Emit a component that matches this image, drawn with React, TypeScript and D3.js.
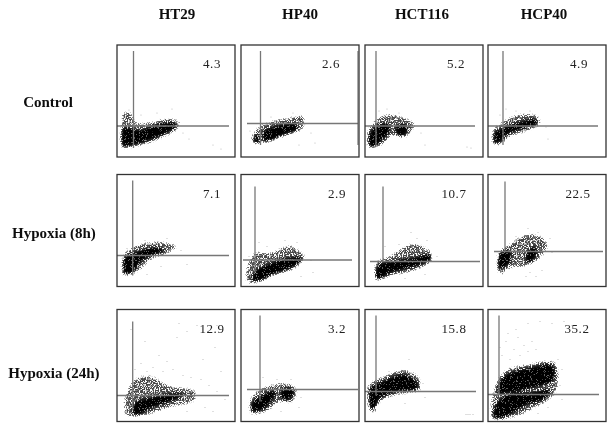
import React from "react";
import * as d3 from "d3";

type Pt = [number, number];

const cellLines = ["HT29", "HP40", "HCT116", "HCP40"];
const conditions = ["Control", "Hypoxia (8h)", "Hypoxia (24h)"];

// % in the upper right gate, row by row
const gatePercent = ["4.3", "2.6", "5.2", "4.9", "7.1", "2.9", "10.7", "22.5", "12.9", "3.2", "15.8", "35.2"];

// gate positions in channels (x 0-118, y 0-112)
const gateX = [16.5, 19.5, 11, 15, 15.7, 14, 18, 17, 15.7, 19, 11, 11];
const gateY = [31, 33.5, 31, 31, 31, 26.5, 25, 35, 26, 32, 30, 27];
const gateXTop = [106, 106, 106, 106, 106, 100, 100, 105, 100, 106, 106, 106];
const gateXBottom = [9, 12, 10, 12, 11, 14, 25, 35, 11, 20, 26, 27];
const gateYFrom = [0, 6, 0, 0, 0, 2, 5, 6, 0, 6, 0, 0];
const gateYTo = [112, 117, 110, 110, 112, 111, 115, 115, 112, 117, 111, 111];
const percentChannel = [95, 90, 91, 91, 95, 96, 89, 90, 95, 96, 89, 89];

// cloud outlines
const ht29ControlHalo: Pt[] = [[5, 9], [4, 32], [6, 44], [13, 45], [19, 35], [33, 35], [51, 39], [63, 35], [61, 28], [48, 20], [33, 14], [18, 10]];
const ht29ControlCore: Pt[] = [[6, 11], [6, 29], [23, 27], [38, 32], [58, 34], [59, 30], [43, 21], [28, 15], [11, 11]];
const hp40ControlHalo: Pt[] = [[11, 14], [11, 22], [17, 30], [27, 35], [44, 39], [62, 41], [63, 29], [49, 22], [29, 16], [17, 13]];
const hp40ControlCore: Pt[] = [[24, 15], [22, 25], [31, 30], [55, 33], [56, 27], [42, 22], [31, 16]];
const hp40ControlCore2: Pt[] = [[13, 15], [14, 21], [17, 23], [18, 14]];
const hct116ControlHalo: Pt[] = [[3, 10], [3, 27], [13, 39], [25, 43], [45, 37], [50, 32], [40, 19], [27, 21], [20, 14], [10, 9]];
const hct116ControlCore: Pt[] = [[5, 11], [4, 22], [13, 32], [24, 33], [24, 24], [17, 17], [11, 11]];
const hct116ControlCore2: Pt[] = [[30, 29], [39, 33], [43, 30], [40, 22], [33, 22]];
const hcp40ControlHalo: Pt[] = [[5, 12], [5, 27], [17, 37], [32, 43], [50, 41], [52, 33], [37, 25], [22, 20], [12, 12]];
const hcp40ControlCore: Pt[] = [[7, 14], [6, 24], [17, 30], [32, 35], [47, 38], [49, 33], [34, 28], [20, 23], [12, 15]];

const ht29EarlyHalo: Pt[] = [[6, 11], [6, 31], [18, 41], [43, 45], [60, 40], [53, 34], [33, 26], [23, 16], [11, 11]];
const ht29EarlyCore: Pt[] = [[7, 13], [7, 28], [20, 35], [38, 39], [48, 36], [33, 30], [23, 24], [18, 16], [11, 12]];
const hp40EarlyHalo: Pt[] = [[6, 4], [6, 21], [14, 34], [29, 34], [49, 41], [64, 30], [54, 18], [34, 11], [19, 4]];
const hp40EarlyCore: Pt[] = [[11, 6], [15, 16], [29, 23], [44, 28], [59, 29], [61, 26], [49, 18], [31, 12], [19, 6]];
const hct116EarlyHalo: Pt[] = [[10, 7], [11, 24], [25, 31], [47, 43], [65, 36], [67, 26], [50, 16], [25, 10], [15, 6]];
const hct116EarlyCore: Pt[] = [[11, 8], [13, 21], [30, 26], [50, 29], [66, 32], [66, 27], [50, 20], [27, 14], [15, 8]];
const hcp40EarlyHalo: Pt[] = [[10, 14], [10, 34], [22, 43], [37, 52], [52, 51], [60, 41], [52, 28], [37, 20], [22, 18], [14, 12]];
const hcp40EarlyCore: Pt[] = [[39, 24], [38, 33], [47, 40], [49, 34], [45, 26]];
const hcp40EarlyCore2: Pt[] = [[11, 18], [12, 34], [22, 36], [22, 24]];

const ht29LateHalo: Pt[] = [[9, 6], [8, 26], [18, 43], [33, 46], [53, 36], [78, 31], [78, 21], [53, 14], [28, 6]];
const ht29LateCore: Pt[] = [[16, 8], [18, 19], [33, 24], [55, 28], [68, 27], [53, 20], [33, 13], [23, 7]];
const hp40LateHalo: Pt[] = [[9, 8], [10, 24], [24, 35], [49, 38], [56, 31], [51, 19], [39, 19], [24, 9]];
const hp40LateCore: Pt[] = [[11, 11], [11, 19], [21, 26], [31, 31], [35, 29], [27, 16], [17, 10]];
const hp40LateCore2: Pt[] = [[40, 24], [41, 32], [51, 33], [53, 28], [47, 21]];
const hct116LateHalo: Pt[] = [[5, 10], [3, 36], [15, 44], [40, 52], [55, 43], [55, 31], [30, 26], [15, 19], [10, 9]];
const hct116LateCore: Pt[] = [[6, 13], [5, 33], [17, 40], [38, 47], [52, 39], [52, 33], [30, 29], [15, 23], [9, 13]];
const hcp40LateHalo: Pt[] = [[4, 3], [7, 36], [17, 51], [42, 58], [67, 59], [68, 29], [42, 11], [22, 3]];
const hcp40LateUpper: Pt[] = [[10, 36], [17, 46], [42, 54], [65, 56], [65, 41], [42, 33], [22, 29], [10, 28]];
const hcp40LateLower: Pt[] = [[5, 6], [9, 19], [22, 28], [42, 29], [62, 31], [57, 23], [37, 16], [22, 7], [7, 3]];

// stray events outside the clouds
const strayHt29Control: Pt[] = [[8, 40], [12, 47], [24, 42], [40, 44], [55, 48], [66, 24], [72, 18], [96, 12], [104, 8]];
const strayHp40Control: Pt[] = [[9, 26], [30, 40], [52, 44], [70, 24], [74, 14], [58, 12]];
const strayHct116Control: Pt[] = [[14, 46], [22, 48], [34, 44], [56, 24], [60, 12], [102, 10], [106, 9]];
const strayHcp40Control: Pt[] = [[12, 42], [18, 48], [28, 46], [42, 46], [58, 30], [60, 18]];
const strayHt29Early: Pt[] = [[10, 38], [28, 46], [50, 48], [64, 36], [44, 20], [30, 12], [70, 22]];
const strayHp40Early: Pt[] = [[18, 44], [26, 40], [44, 46], [56, 44], [70, 26], [72, 14], [60, 10], [8, 30]];
const strayHct116Early: Pt[] = [[20, 40], [34, 42], [52, 48], [62, 46], [72, 30], [60, 12], [40, 8], [46, 54]];
const strayHcp40Early: Pt[] = [[28, 50], [40, 58], [50, 54], [62, 48], [64, 34], [42, 14], [48, 10], [54, 16], [38, 10]];
const strayHt29Late: Pt[] = [[14, 92], [28, 80], [42, 66], [60, 84], [70, 90], [86, 62], [98, 74], [104, 50], [24, 58], [36, 54], [46, 50], [56, 52], [66, 46], [74, 44], [84, 42], [92, 36], [100, 30], [108, 22], [88, 14], [96, 10], [70, 10], [50, 60], [30, 50], [18, 52], [80, 96], [62, 98], [100, 96]];
const strayHp40Late: Pt[] = [[22, 44], [36, 42], [50, 42], [60, 24], [58, 14], [40, 10]];
const strayHct116Late: Pt[] = [[24, 50], [44, 62], [58, 38], [60, 24], [40, 18], [101, 7], [103, 7], [105, 7], [108, 7]];
const strayHcp40Late: Pt[] = [[14, 66], [18, 80], [22, 62], [26, 72], [30, 84], [32, 66], [36, 76], [40, 70], [44, 80], [48, 72], [28, 92], [40, 98], [52, 100], [64, 98], [76, 100], [84, 96], [70, 62], [74, 52], [72, 36], [74, 22], [60, 14], [50, 8], [12, 74], [20, 88]];

const panelHalos = [
  ht29ControlHalo, hp40ControlHalo, hct116ControlHalo, hcp40ControlHalo,
  ht29EarlyHalo, hp40EarlyHalo, hct116EarlyHalo, hcp40EarlyHalo,
  ht29LateHalo, hp40LateHalo, hct116LateHalo, hcp40LateHalo,
];
const panelCores = [
  [ht29ControlCore], [hp40ControlCore, hp40ControlCore2], [hct116ControlCore, hct116ControlCore2], [hcp40ControlCore],
  [ht29EarlyCore], [hp40EarlyCore], [hct116EarlyCore], [hcp40EarlyCore, hcp40EarlyCore2],
  [ht29LateCore], [hp40LateCore, hp40LateCore2], [hct116LateCore], [hcp40LateUpper, hcp40LateLower],
];
const panelStray = [
  strayHt29Control, strayHp40Control, strayHct116Control, strayHcp40Control,
  strayHt29Early, strayHp40Early, strayHct116Early, strayHcp40Early,
  strayHt29Late, strayHp40Late, strayHct116Late, strayHcp40Late,
];

const width = 613;
const height = 428;
const panelW = 118;
const panelH = 112;
const colLeft = [117, 241, 365, 488];
const rowTop = [45, 174.5, 309.5];
const headerCenter = [177, 300, 422, 544];
const conditionCenter = [48, 54, 54];
const conditionBase = [107, 238, 378];
const serif = "'Liberation Serif', 'Times New Roman', serif";

const x = d3.scaleLinear().domain([0, 118]).range([0, panelW]);
const y = d3.scaleLinear().domain([0, 112]).range([panelH, 0]);
const cloud = d3
  .line<Pt>()
  .x((d) => x(d[0]))
  .y((d) => y(d[1]))
  .curve(d3.curveCatmullRomClosed);

export default function App() {
  return (
    <svg
      width={width}
      height={height}
      style={{ position: "absolute", left: 0, top: 0, background: "#fff" }}
    >
      <defs>
        {/* speckle so the clouds read as single events */}
        <filter
          id="grain"
          filterUnits="userSpaceOnUse"
          x="0"
          y="0"
          width={panelW}
          height={panelH}
          colorInterpolationFilters="sRGB"
        >
          <feGaussianBlur in="SourceAlpha" stdDeviation="1.4" result="soft" />
          <feTurbulence type="fractalNoise" baseFrequency="0.85" numOctaves="2" seed="4" result="noise" />
          <feColorMatrix in="noise" type="matrix" values="0 0 0 0 0  0 0 0 0 0  0 0 0 0 0  3 0 0 0 -1" result="speck" />
          <feComposite in="soft" in2="speck" operator="arithmetic" k1="0" k2="1.5" k3="1" k4="-1.25" result="mix" />
          <feComponentTransfer in="mix" result="hard">
            <feFuncA type="linear" slope="2.5" intercept="0" />
          </feComponentTransfer>
          <feComposite in="hard" in2="soft" operator="in" result="kept" />
          <feGaussianBlur in="kept" stdDeviation="0.5" />
        </filter>
        {/* the scan is soft, text too */}
        <filter id="soft" x="-5%" y="-10%" width="110%" height="120%">
          <feGaussianBlur stdDeviation="0.3" />
        </filter>
      </defs>

      <g filter="url(#soft)">
        {cellLines.map((d, i) => (
          <text
            key={d}
            x={headerCenter[i]}
            y={19}
            textAnchor="middle"
            fontFamily={serif}
            fontWeight="bold"
            fontSize={15}
            fill="#111"
          >
            {d}
          </text>
        ))}
        {conditions.map((d, i) => (
          <text
            key={d}
            x={conditionCenter[i]}
            y={conditionBase[i]}
            textAnchor="middle"
            fontFamily={serif}
            fontWeight="bold"
            fontSize={15}
            fill="#111"
          >
            {d}
          </text>
        ))}
      </g>

      {gatePercent.map((label, i) => {
        const col = i % 4;
        const row = Math.floor(i / 4);
        return (
          <g key={i} transform={`translate(${colLeft[col]},${rowTop[row]})`}>
            <g filter="url(#grain)">
              <path d={cloud(panelHalos[i]) ?? ""} fill="#000" fillOpacity={0.72} />
              {panelCores[i].map((core, j) => (
                <path key={j} d={cloud(core) ?? ""} fill="#000" fillOpacity={1} />
              ))}
            </g>
            {panelStray[i].map((d, j) => (
              <circle key={j} cx={x(d[0])} cy={y(d[1])} r={0.6} fill="#888" fillOpacity={0.6} />
            ))}
            <line x1={x(gateX[i])} x2={x(gateX[i])} y1={y(gateXTop[i])} y2={y(gateXBottom[i])} stroke="#777" strokeWidth={1.3} />
            <line x1={x(gateYFrom[i])} x2={x(gateYTo[i])} y1={y(gateY[i])} y2={y(gateY[i])} stroke="#777" strokeWidth={1.3} />
            <rect x={0} y={0} width={panelW} height={panelH} fill="none" stroke="#333" strokeWidth={1.3} />
            {i === 1 && (
              <line x1={x(117)} x2={x(117)} y1={y(106)} y2={y(12)} stroke="#555" strokeWidth={1} />
            )}
            <text
              x={x(percentChannel[i])}
              y={y(89)}
              textAnchor="middle"
              fontFamily={serif}
              fontSize={13}
              letterSpacing={0.6}
              fill="#222"
              filter="url(#soft)"
            >
              {label}
            </text>
          </g>
        );
      })}
    </svg>
  );
}
